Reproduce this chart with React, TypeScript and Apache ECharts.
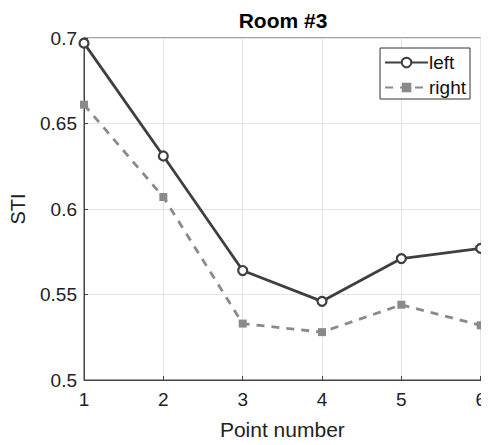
import React, { useEffect, useRef } from "react";
import * as echarts from "echarts";

const pointNumbers = [1, 2, 3, 4, 5, 6];
const leftValues = [0.697, 0.631, 0.564, 0.546, 0.571, 0.577];
const rightValues = [0.661, 0.607, 0.533, 0.528, 0.544, 0.532];
const titleText = "Room #3";
const xName = "Point number";
const yName = "STI";

const FONT = "'Liberation Sans', Arial, sans-serif";

export default function App() {
  const ref = useRef<HTMLDivElement>(null);
  useEffect(() => {
    if (!ref.current) return;
    const chart = echarts.init(ref.current, undefined, { renderer: "svg" });
    chart.setOption({
      animation: false,
      backgroundColor: "#fff",
      textStyle: { fontFamily: FONT },
      title: {
        text: titleText,
        left: 283,
        top: 8,
        textAlign: "center",
        padding: 0,
        textStyle: { fontSize: 21, fontWeight: "bold", color: "#000", fontFamily: FONT, lineHeight: 24 },
      },
      grid: {
        left: 81,
        right: 6,
        top: 38,
        bottom: 61,
        show: true,
        borderColor: "#444",
        borderWidth: 1,
      },
      legend: {
        right: 19,
        top: 48,
        orient: "vertical",
        itemWidth: 43,
        itemHeight: 12,
        itemGap: 6,
        padding: [5, 4, 2, 4],
        borderColor: "#333",
        borderWidth: 1,
        backgroundColor: "#fff",
        textStyle: { fontSize: 19, color: "#111", lineHeight: 18, padding: [0, 0, 0, -4] },
        data: ["left", "right"],
      },
      xAxis: {
        type: "value",
        min: 1,
        max: 6,
        interval: 1,
        name: xName,
        nameLocation: "middle",
        nameGap: 39,
        nameTextStyle: { fontSize: 21, color: "#222" },
        axisLine: { lineStyle: { color: "#444" } },
        axisTick: { inside: true, length: 4, lineStyle: { color: "#444" } },
        axisLabel: { fontSize: 19, color: "#222", margin: 10 },
        splitLine: { show: true, lineStyle: { color: "#e4e4e4" } },
      },
      yAxis: {
        type: "value",
        min: 0.5,
        max: 0.7,
        interval: 0.05,
        name: yName,
        nameLocation: "middle",
        nameGap: 56,
        nameTextStyle: { fontSize: 20, color: "#222" },
        axisLine: { show: true, lineStyle: { color: "#444" } },
        axisTick: { show: true, inside: true, length: 4, lineStyle: { color: "#444" } },
        axisLabel: { fontSize: 19, color: "#222", margin: 7 },
        splitLine: { show: true, lineStyle: { color: "#e4e4e4" } },
      },
      series: [
        {
          name: "left",
          type: "line",
          data: pointNumbers.map((x, i) => [x, leftValues[i]]),
          symbol: "circle",
          symbolSize: 9,
          lineStyle: { color: "#3f3f3f", width: 2.8 },
          itemStyle: { color: "#fff", borderColor: "#3f3f3f", borderWidth: 2.2 },
          z: 3,
        },
        {
          name: "right",
          type: "line",
          data: pointNumbers.map((x, i) => [x, rightValues[i]]),
          symbol: "rect",
          symbolSize: 8,
          lineStyle: { color: "#8a8a8a", width: 2.8, type: [8, 7] },
          itemStyle: { color: "#8a8a8a" },
          z: 2,
        },
      ],
    });
    return () => chart.dispose();
  }, []);
  return <div ref={ref} style={{ width: 489, height: 445, margin: -8 }} />;
}
